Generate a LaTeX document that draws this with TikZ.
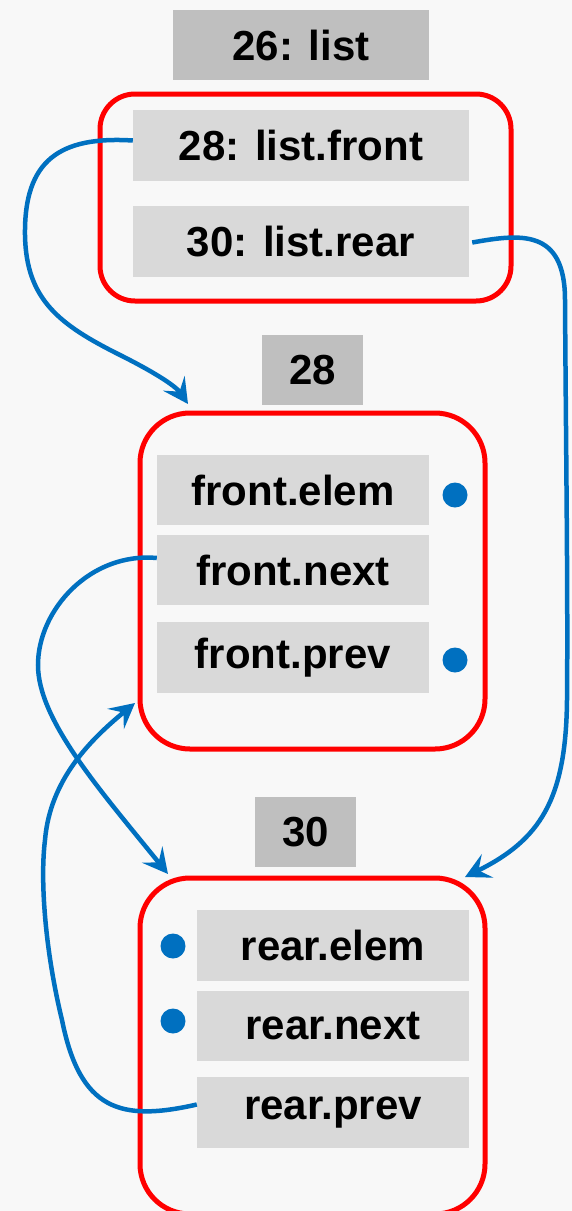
\documentclass[tikz,border=0pt]{standalone}
\usepackage{fontspec}
\setmainfont{Liberation Sans}
\usetikzlibrary{arrows.meta}
\definecolor{bgc}{HTML}{F8F8F8}
\definecolor{hdr}{HTML}{BFBFBF}
\definecolor{fld}{HTML}{D9D9D9}
\definecolor{ptr}{HTML}{0070C0}
\definecolor{frm}{HTML}{FF0000}
\tikzset{
  txt/.style={font=\fontsize{42}{48}\selectfont\bfseries, text=black, inner sep=0pt},
  hdrbox/.style={txt, fill=hdr, minimum width=101pt, minimum height=70pt},
  fldbox/.style={txt, fill=fld, minimum width=272pt, minimum height=70pt},
  frame/.style={draw=frm, line width=5pt, rounded corners=#1, inner sep=0pt},
  dot/.style={circle, fill=ptr, minimum size=25pt, inner sep=0pt},
  link/.style={draw=ptr, line width=4.5pt, -{Stealth[length=25pt,width=26pt,inset=10pt]}},
}
\begin{document}
\begin{tikzpicture}[x=1pt,y=-1pt]
\fill[bgc] (0,0) rectangle (572,1211);
\useasboundingbox (0,0) rectangle (572,1211);
% frames
\node[frame=35pt, minimum width=411pt, minimum height=207pt] (topfr) at (305.5,197.5) {};
\node[frame=50pt, minimum width=345pt, minimum height=336pt] (midfr) at (312.5,581) {};
\node[frame=50pt, minimum width=345pt, minimum height=336pt] (botfr) at (312.5,1046) {};
% headers
\node[hdrbox, minimum width=256pt] (hlist) at (301,45) {26: list};
\node[hdrbox] (h28) at (312.5,370) {28};
\node[hdrbox] (h30) at (305.5,832) {30};
% list fields
\node[fldbox, minimum width=336pt, minimum height=71pt] (lfront) at (301,145.5) {28: list.front};
\node[fldbox, minimum width=336pt, minimum height=71pt] (lrear) at (301,241.5) {30: list.rear};
% node 28 fields
\node[fldbox] (felem) at (293,490) {front.elem};
\node[fldbox] (fnext) at (293,570) {front.next};
\node[fldbox, minimum height=71pt] (fprev) at (293,657.5) {front.prev};
\node[dot] (dfe) at (455,495) {};
\node[dot] (dfp) at (455,660) {};
% node 30 fields
\node[fldbox, minimum height=71pt] (relem) at (333,945.5) {rear.elem};
\node[fldbox] (rnext) at (333,1026) {rear.next};
\node[fldbox, minimum height=71pt] (rprev) at (333,1112.5) {rear.prev};
\node[dot] (dre) at (173,946) {};
\node[dot] (drn) at (173,1021) {};
% arrow tips
\coordinate (t1) at (188,404);
\coordinate (t2) at (465,877);
\coordinate (t3) at (168,874);
\coordinate (t4) at (135,703);
% links
\draw[link] ([yshift=5pt]lfront.west) .. controls (60,136) and (24,160) .. (25,235)
  .. controls (26,300) and (60,325) .. (120,355)
  .. controls (150,370) and (175,385) .. (t1);
\draw[link] ([xshift=3pt,yshift=-1pt]lrear.east) .. controls (520,234) and (565,228) .. (565,300)
  .. controls (566,450) and (568,600) .. (567,700)
  .. controls (566,800) and (540,840) .. (t2);
\draw[link] ([yshift=12pt]fnext.west) .. controls (90,552) and (38,610) .. (38,665)
  .. controls (38,720) and (100,790) .. (t3);
\draw[link] ([yshift=8pt]rprev.west) .. controls (120,1122) and (80,1110) .. (62,1020)
  .. controls (45,950) and (40,880) .. (45,840)
  .. controls (50,780) and (90,740) .. (t4);
\end{tikzpicture}
\end{document}
